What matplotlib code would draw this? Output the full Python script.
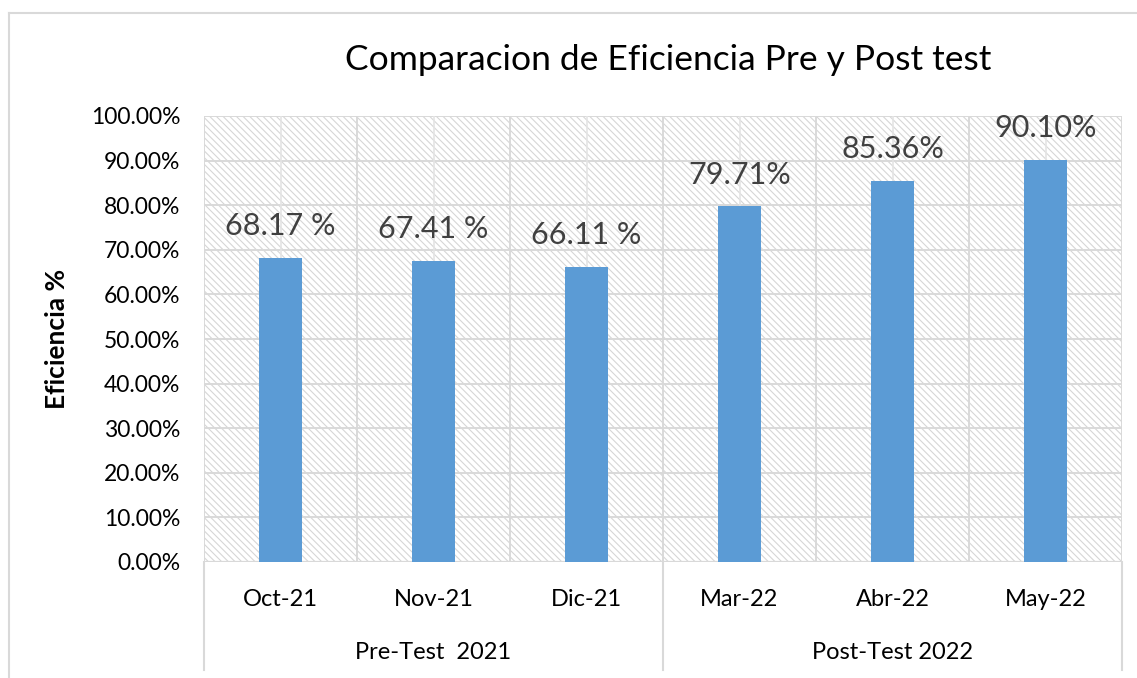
import matplotlib.pyplot as plt
from matplotlib.patches import Rectangle
from matplotlib.lines import Line2D
from matplotlib.ticker import FuncFormatter

# datos de eficiencia por mes
meses = ["Oct-21", "Nov-21", "Dic-21", "Mar-22", "Abr-22", "May-22"]
eficiencia = [68.17, 67.41, 66.11, 79.71, 85.36, 90.10]
etiquetas = ["68.17 %", "67.41 %", "66.11 %", "79.71%", "85.36%", "90.10%"]
grupos = ["Pre-Test  2021", "Post-Test 2022"]
meses_por_grupo = [3, 3]

plt.rcParams['font.family'] = ['Lato', 'DejaVu Sans']
plt.rcParams['hatch.linewidth'] = 0.8
plt.rcParams['hatch.color'] = '#d6d6d6'

W, H = 1137, 678
fig = plt.figure(figsize=(W / 100, H / 100), dpi=100)

# borde exterior del grafico
fig.add_artist(Line2D([9 / W, 1], [1 - 13 / H, 1 - 13 / H], color='#d9d9d9', lw=1.5))
fig.add_artist(Line2D([9 / W, 9 / W], [0, 1 - 13 / H], color='#d9d9d9', lw=1.5))

x0, x1, y0, y1 = 204, 1122, 116, 562
ax = fig.add_axes([x0 / W, 1 - y1 / H, (x1 - x0) / W, (y1 - y0) / H])

# fondo rayado
ax.add_patch(Rectangle((0, 0), 1, 1, transform=ax.transAxes, facecolor='white',
                       edgecolor='#d6d6d6', hatch='\\\\\\\\\\', lw=0, zorder=0))

n = len(meses)
pos = list(range(n))
ax.set_xlim(-0.5, n - 0.5)
ax.set_ylim(0, 100)

# lineas de cuadricula
for v in range(0, 101, 10):
    ax.axhline(v, color='#d9d9d9', lw=1.4, zorder=1)
for i in range(n + 1):
    ax.axvline(i - 0.5, color='#d9d9d9', lw=1.4, zorder=1)
for p in pos:
    ax.axvline(p, color='#e4e4e4', lw=1.2, zorder=1)

ax.bar(pos, eficiencia, width=0.275, color='#5B9BD5', zorder=3)
for p, v, t in zip(pos, eficiencia, etiquetas):
    ax.annotate(t, (p, v), xytext=(0, 23), textcoords='offset points',
                ha='center', va='center', fontsize=22, color='#404040', zorder=4)

ax.set_yticks(range(0, 101, 10))
ax.yaxis.set_major_formatter(FuncFormatter(lambda v, _: f"{v:.2f}%"))
ax.tick_params(axis='y', length=0, labelsize=16.5, pad=17)
ax.set_xticks([])
for s in ax.spines.values():
    s.set_visible(False)

# etiquetas de dos niveles en el eje x
for p, m in zip(pos, meses):
    ax.text(p, -0.085, m, transform=ax.get_xaxis_transform(), ha='center',
            va='center', fontsize=17, color='black')
inicio = 0
sep = [-0.5]
for g, k in zip(grupos, meses_por_grupo):
    centro = inicio + (k - 1) / 2
    ax.text(centro, -0.204, g, transform=ax.get_xaxis_transform(), ha='center',
            va='center', fontsize=17, color='black')
    inicio += k
    sep.append(inicio - 0.5)
for s in sep:
    ax.add_line(Line2D([s, s], [0, -0.242], transform=ax.get_xaxis_transform(),
                       color='#d9d9d9', lw=1.5, clip_on=False))
ax.axhline(0, color='#d9d9d9', lw=1.6, zorder=2)

ax.set_ylabel("Eficiencia %", fontsize=19, fontweight='bold', labelpad=16)
fig.text(668 / W, 1 - 60 / H, "Comparacion de Eficiencia Pre y Post test",
         ha='center', va='center', fontsize=25.5, color='black')

fig.savefig("out.png", dpi=100)
